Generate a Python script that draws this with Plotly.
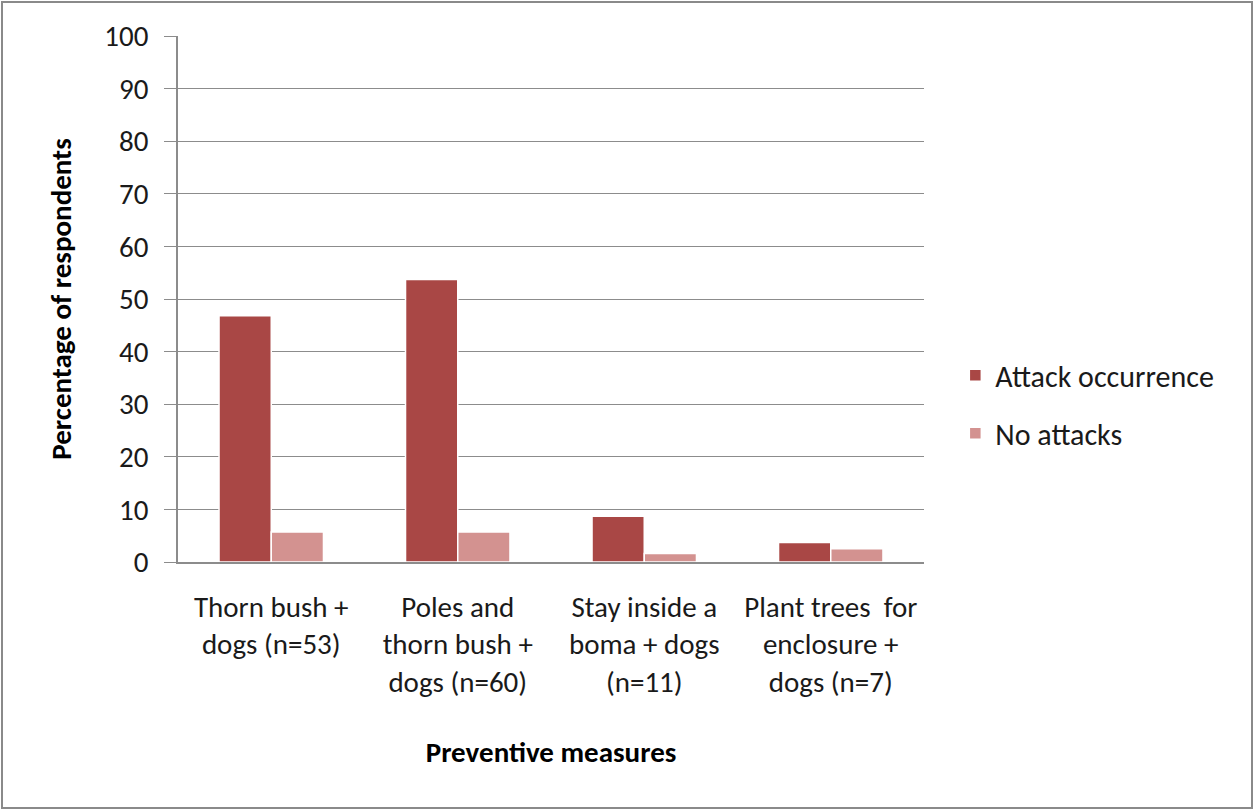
import plotly.graph_objects as go

# Preventive measures and the share of respondents reporting attacks
categories = [
    "Thorn bush +<br>dogs (n=53)",
    "Poles and<br>thorn bush +<br>dogs (n=60)",
    "Stay inside a<br>boma + dogs<br>(n=11)",
    "Plant trees  for<br>enclosure +<br>dogs (n=7)",
]
attack_occurrence = [46.8, 53.7, 8.7, 3.7]
no_attacks = [5.7, 5.7, 1.6, 2.5]
y_ticks = [0, 10, 20, 30, 40, 50, 60, 70, 80, 90, 100]

FONT = "Carlito, Lato, sans-serif"
FS = 29
W, H = 1254, 811
ML, MR, MT, MB = 178, 330, 36, 249
PW, PH = W - ML - MR, H - MT - MB

fig = go.Figure()
fig.add_trace(go.Bar(
    x=categories, y=attack_occurrence, name="Attack occurrence",
    marker=dict(color="#A94745", line=dict(color="white", width=1.5)),
    legendgroup="a",
))
fig.add_trace(go.Bar(
    x=categories, y=no_attacks, name="No attacks",
    marker=dict(color="#D39290", line=dict(color="white", width=1.5)),
    legendgroup="b",
))

# outer frame around the whole chart
fig.add_shape(
    type="rect", xref="paper", yref="paper",
    x0=(2 - ML) / PW, x1=(W - 2 - ML) / PW,
    y0=-(H - 3 - (MT + PH)) / PH, y1=1 + (MT - 2) / PH,
    line=dict(color="#8a8a8a", width=2), fillcolor="rgba(0,0,0,0)",
    layer="below",
)

fig.update_layout(
    width=W, height=H,
    margin=dict(l=ML, r=MR, t=MT, b=MB, pad=0),
    paper_bgcolor="white", plot_bgcolor="white",
    barmode="group", bargap=0.44, bargroupgap=0.0,
    font=dict(family=FONT, size=FS, color="#1a1a1a"),
    legend=dict(
        x=1.042, y=0.30, xanchor="left", yanchor="middle",
        font=dict(family=FONT, size=FS + 1, color="#1a1a1a"),
        tracegroupgap=16, itemwidth=30,
    ),
    xaxis=dict(
        showgrid=False, showline=True, linecolor="#8c8c8c", linewidth=1.5,
        ticks="", ticklabelstandoff=18,
        tickfont=dict(family=FONT, size=FS, color="#1a1a1a"),
        title=dict(text="<b>Preventive measures</b>", standoff=43,
                   font=dict(family=FONT, size=FS, color="#000")),
    ),
    yaxis=dict(
        range=[0, 100], tickvals=y_ticks,
        showgrid=True, gridcolor="#8c8c8c", gridwidth=1.2,
        showline=True, linecolor="#8c8c8c", linewidth=1.5,
        ticks="outside", ticklen=12, tickcolor="#8c8c8c", tickwidth=1.2,
        ticklabelstandoff=10,
        tickfont=dict(family=FONT, size=FS, color="#1a1a1a"),
        zeroline=False,
        title=dict(text="<b>Percentage of respondents</b>", standoff=24,
                   font=dict(family=FONT, size=FS, color="#000")),
    ),
)

fig.write_html("out.html")
